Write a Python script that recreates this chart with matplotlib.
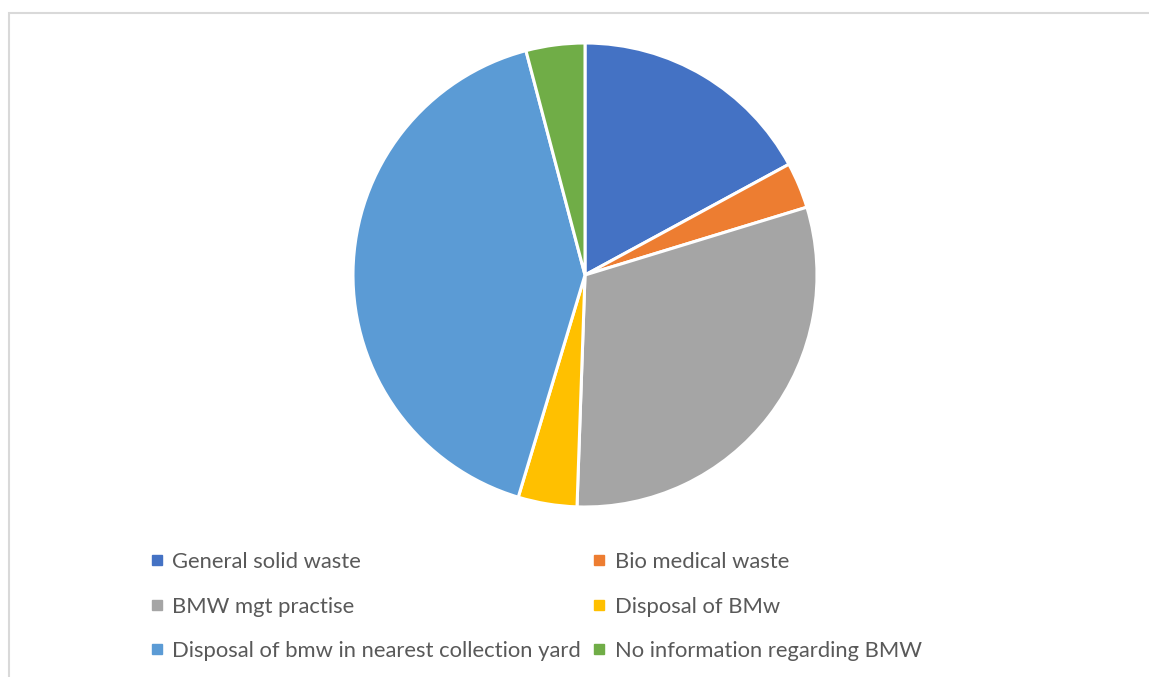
import matplotlib.pyplot as plt
from matplotlib.lines import Line2D
from matplotlib.patches import Rectangle

labels = ['General solid waste', 'Bio medical waste', 'BMW mgt practise',
          'Disposal of BMw', 'Disposal of bmw in nearest collection yard',
          'No information regarding BMW']
values = [17.1, 3.2, 30.3, 4.1, 41.3, 4.1]
colors = ['#4472C4', '#ED7D31', '#A5A5A5', '#FFC000', '#5B9BD5', '#70AD47']

plt.rcParams['font.family'] = ['Lato', 'DejaVu Sans']

fig = plt.figure(figsize=(11.49, 6.77), dpi=100)

# light grey chart frame (cut off at right / bottom like the original)
fig.patches.append(Rectangle((8.5 / 1149, -0.1), 1.2, (677 - 12.5) / 677 + 0.1,
                             transform=fig.transFigure, fill=False,
                             edgecolor='#D9D9D9', linewidth=1.5))

ax = fig.add_axes([(585 - 232) / 1149, (677 - 507) / 677, 464 / 1149, 464 / 677])
wedges, _ = ax.pie(values, colors=colors, startangle=90, counterclock=False,
                   radius=1, wedgeprops=dict(edgecolor='white', linewidth=2.2))
ax.set_xlim(-1, 1)
ax.set_ylim(-1, 1)
ax.set_aspect('equal')
ax.axis('off')

# legend, row-major order in two columns
order = [0, 2, 4, 1, 3, 5]
handles = [Line2D([], [], linestyle='none', marker='s', markersize=6.5,
                  markerfacecolor=colors[i], markeredgecolor=colors[i]) for i in order]
leg = fig.legend(handles, [labels[i] for i in order], ncol=2,
                 loc='upper left', bbox_to_anchor=(150 / 1149, 1 - 552 / 677),
                 frameon=False, fontsize=15.8, labelcolor='#595959',
                 handlelength=0.6, handletextpad=0.4, columnspacing=0.55,
                 labelspacing=1.12, borderaxespad=0, borderpad=0)

fig.savefig('out.png', dpi=100)
